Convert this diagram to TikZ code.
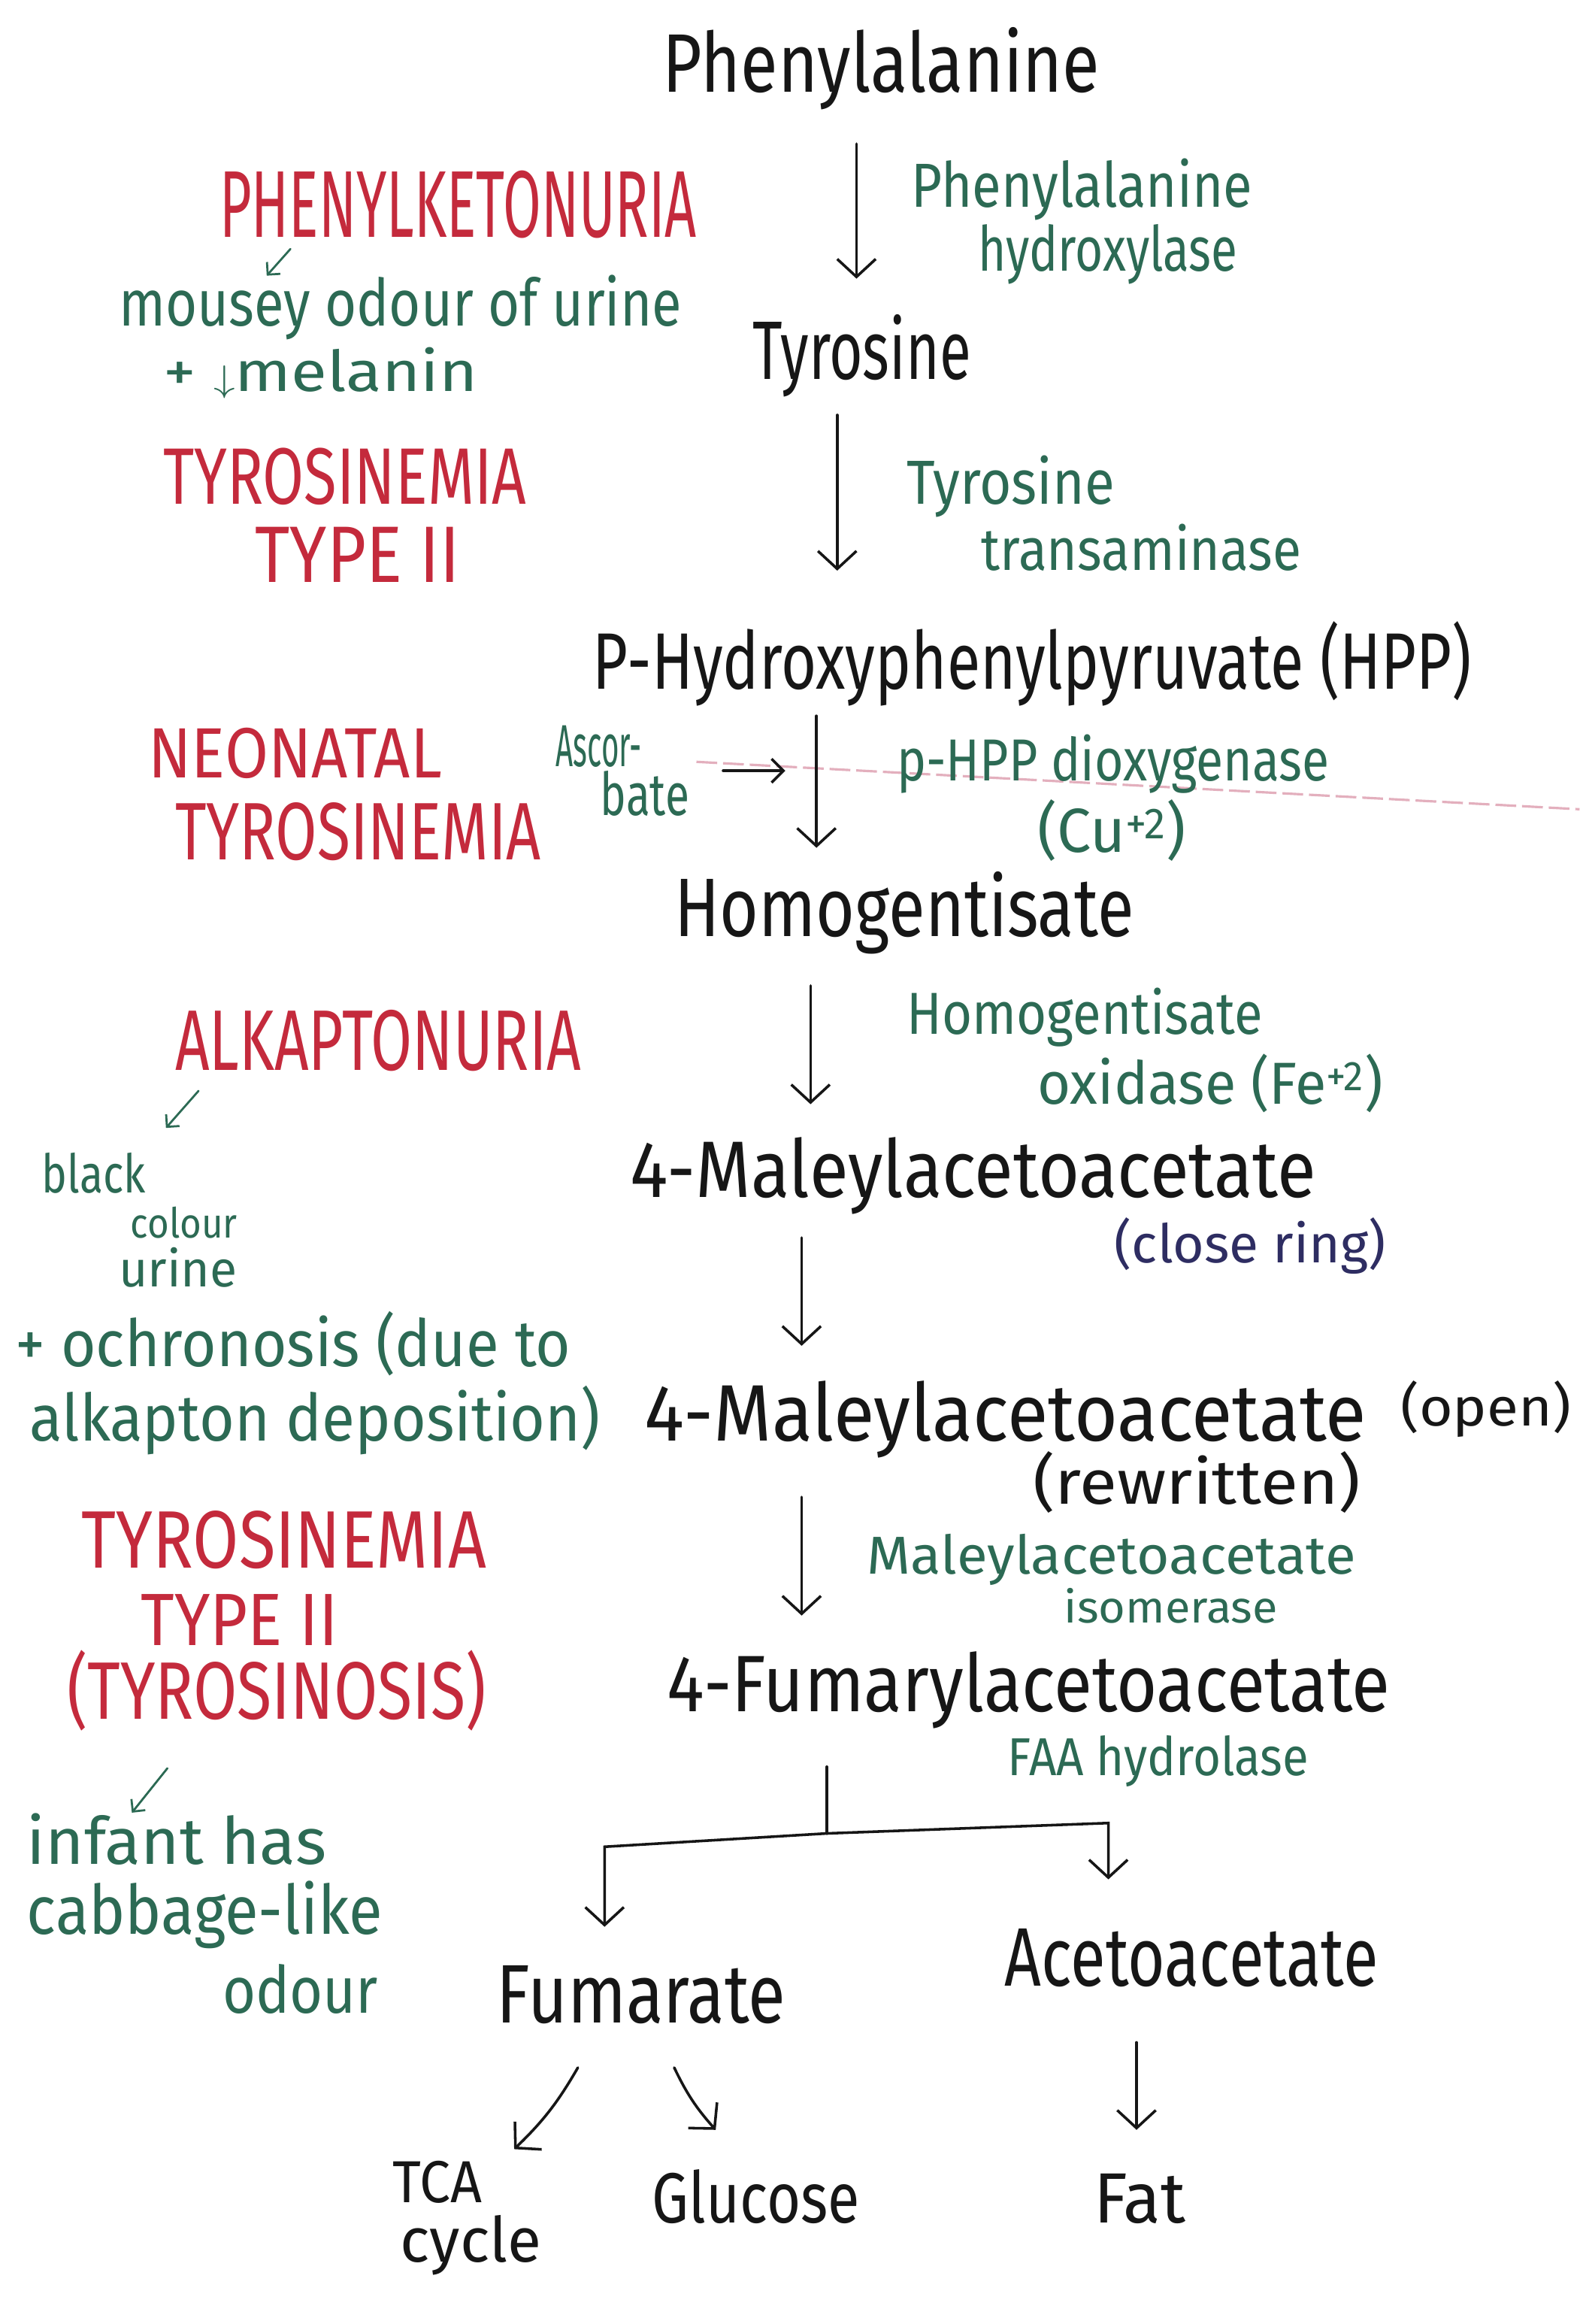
\documentclass[tikz,border=0pt]{standalone}
\usepackage{fontspec}
\setmainfont{Fira Sans}
\usepackage{graphicx}
\usetikzlibrary{arrows.meta}
\definecolor{ink}{HTML}{161616}
\definecolor{leaf}{HTML}{2C6A54}
\definecolor{crim}{HTML}{C42A3C}
\definecolor{navy}{HTML}{2E2D62}
\definecolor{strike}{HTML}{E3AFBD}
% text of a given font size, stretched or squeezed to a given width
\newcommand{\fitw}[3]{\resizebox{#1pt}{\height}{\fontsize{#2pt}{#2pt}\selectfont #3}}
\begin{document}
\begin{tikzpicture}[x=1pt,y=-1pt,
  txt/.style={inner sep=0pt, anchor=base west},
  chem/.style={txt, text=ink},
  enz/.style={txt, text=leaf},
  dis/.style={txt, text=crim},
  note/.style={txt, text=leaf},
  flow/.style={draw=ink, line width=1.8pt, line cap=round,
    -{Straight Barb[length=12pt,width=26pt,line width=1.8pt]}},
  bar/.style={draw=ink, line width=1.8pt, line cap=round, line join=round},
  hint/.style={draw=leaf, line width=1.4pt, line cap=round,
    -{Straight Barb[length=6pt,width=12pt,line width=1.4pt]}}]
\useasboundingbox (0,0) rectangle (1066,1568);
\fill[white] (0,0) rectangle (1066,1568);

% faint stroke through the dioxygenase label
\draw[strike, line width=1.6pt, dash pattern=on 14pt off 4pt] (470,514) -- (1066,546);

% ---- main pathway ----
\node[chem] (phe) at (447,62) {\fitw{295}{56}{Phenylalanine}};
\node[chem] (tyr) at (508,256) {\fitw{147}{56}{Tyrosine}};
\node[chem] (hpp) at (400,465) {\fitw{593}{54}{P-Hydroxyphenylpyruvate (HPP)}};
\node[chem] (hga) at (455,632) {\fitw{310}{56}{Homogentisate}};
\node[chem] (maa) at (425,808) {\fitw{463}{54}{4-Maleylacetoacetate}};
\node[chem] (maa2) at (435,972) {\fitw{487}{54}{4-Maleylacetoacetate}};
\node[chem] (open) at (945,962) {\fitw{115}{36}{(open)}};
\node[chem] (rewr) at (697,1015) {\fitw{221}{42}{(rewritten)}};
\node[chem] (faa) at (450,1155) {\fitw{488}{54}{4-Fumarylacetoacetate}};
\node[chem] (fum) at (335,1365) {\fitw{195}{56}{Fumarate}};
\node[chem] (aca) at (678,1340) {\fitw{252}{56}{Acetoacetate}};
\node[chem] (tca) at (265,1486) {\fitw{60}{40}{TCA}};
\node[chem] (cyc) at (270,1526) {\fitw{95}{42}{cycle}};
\node[chem] (glc) at (440,1500) {\fitw{140}{48}{Glucose}};
\node[chem] (fat) at (738,1500) {\fitw{62}{48}{Fat}};
\node[txt, text=navy] (ring) at (752,852) {\fitw{183}{36}{(close ring)}};

% ---- enzymes and cofactors ----
\node[enz] (e1a) at (615,140) {\fitw{230}{42}{Phenylalanine}};
\node[enz] (e1b) at (660,183) {\fitw{175}{42}{hydroxylase}};
\node[enz] (e2a) at (612,340) {\fitw{140}{42}{Tyrosine}};
\node[enz] (e2b) at (662,385) {\fitw{216}{40}{transaminase}};
\node[enz] (asc1) at (375,517) {\fitw{58}{40}{Ascor-}};
\node[enz] (asc2) at (405,550) {\fitw{60}{40}{bate}};
\node[enz] (e3a) at (605,527) {\fitw{292}{40}{p-HPP dioxygenase}};
\node[enz] (e3b) at (700,575) {\fitw{100}{42}{(Cu\textsuperscript{+2})}};
\node[enz] (e4a) at (612,698) {\fitw{240}{40}{Homogentisate}};
\node[enz] (e4b) at (700,745) {\fitw{233}{40}{oxidase (Fe\textsuperscript{+2})}};
\node[enz] (e5a) at (585,1062) {\fitw{330}{36}{Maleylacetoacetate}};
\node[enz] (e5b) at (718,1095) {\fitw{144}{30}{isomerase}};
\node[enz] (e6) at (680,1198) {\fitw{203}{36}{FAA hydrolase}};

% ---- disorders ----
\node[dis] (pku) at (148,160) {\fitw{322}{64}{PHENYLKETONURIA}};
\node[dis] (ty2a) at (110,340) {\fitw{245}{54}{TYROSINEMIA}};
\node[dis] (ty2b) at (172,393) {\fitw{138}{54}{TYPE II}};
\node[dis] (neoa) at (100,525) {\fitw{198}{48}{NEONATAL}};
\node[dis] (neob) at (118,580) {\fitw{247}{55}{TYROSINEMIA}};
\node[dis] (alk) at (118,722) {\fitw{274}{58}{ALKAPTONURIA}};
\node[dis] (ty3a) at (55,1058) {\fitw{273}{55}{TYROSINEMIA}};
\node[dis] (ty3b) at (95,1110) {\fitw{133}{50}{TYPE II}};
\node[dis] (ty3c) at (45,1160) {\fitw{283}{55}{(TYROSINOSIS)}};

% ---- symptoms ----
\node[note] (n1a) at (80,220) {\fitw{380}{44}{mousey odour of urine}};
\node[note] (n1b) at (110,264) {\fitw{212}{38}{+ $\downarrow$melanin}};
\node[note] (n2a) at (28,805) {\fitw{70}{36}{black}};
\node[note] (n2b) at (88,835) {\fitw{72}{28}{colour}};
\node[note] (n2c) at (80,868) {\fitw{80}{34}{urine}};
\node[note] (n2d) at (10,922) {\fitw{375}{44}{+ ochronosis (due to}};
\node[note] (n2e) at (20,972) {\fitw{385}{44}{alkapton deposition)}};
\node[note] (n3a) at (18,1258) {\fitw{202}{44}{infant has}};
\node[note] (n3b) at (18,1305) {\fitw{240}{46}{cabbage-like}};
\node[note] (n3c) at (150,1358) {\fitw{105}{44}{odour}};

% ---- arrow end points ----
\coordinate (a1s) at (578,97);   \coordinate (a1e) at (578,188);
\coordinate (a2s) at (565,280);  \coordinate (a2e) at (565,385);
\coordinate (a3s) at (551,483);  \coordinate (a3e) at (551,572);
\coordinate (a4s) at (547,665);  \coordinate (a4e) at (547,745);
\coordinate (a5s) at (541,835);  \coordinate (a5e) at (541,908);
\coordinate (a6s) at (541,1010); \coordinate (a6e) at (541,1090);
\coordinate (ascs) at (488,520); \coordinate (asce) at (530,520);
\coordinate (stem) at (558,1192); \coordinate (fork) at (558,1237);
\coordinate (lc) at (408,1246);  \coordinate (ltip) at (408,1300);
\coordinate (rc) at (748,1230);  \coordinate (rtip) at (748,1268);
\coordinate (f1s) at (390,1395); \coordinate (f1e) at (347,1450);
\coordinate (f2s) at (455,1395); \coordinate (f2e) at (483,1437);
\coordinate (acs) at (767,1378); \coordinate (ace) at (767,1437);
\coordinate (h1s) at (196,168);  \coordinate (h1e) at (180,186);
\coordinate (h2s) at (134,736);  \coordinate (h2e) at (112,761);
\coordinate (h3s) at (113,1193); \coordinate (h3e) at (89,1223);

% ---- connectors ----
\draw[flow] (a1s) -- (a1e);
\draw[flow] (a2s) -- (a2e);
\draw[flow] (a3s) -- (a3e);
\draw[flow] (a4s) -- (a4e);
\draw[flow] (a5s) -- (a5e);
\draw[flow] (a6s) -- (a6e);
\draw[flow, -{Straight Barb[length=8pt,width=16pt,line width=1.8pt]}] (ascs) -- (asce);
\draw[bar] (stem) -- (fork);
\draw[flow] (fork) -- (lc) -- (ltip);
\draw[flow] (fork) -- (rc) -- (rtip);
\draw[flow] (f1s) to[bend left=8] (f1e);
\draw[flow] (f2s) to[bend right=8] (f2e);
\draw[flow] (acs) -- (ace);
\draw[hint] (h1s) -- (h1e);
\draw[hint] (h2s) -- (h2e);
\draw[hint] (h3s) -- (h3e);
\end{tikzpicture}
\end{document}
